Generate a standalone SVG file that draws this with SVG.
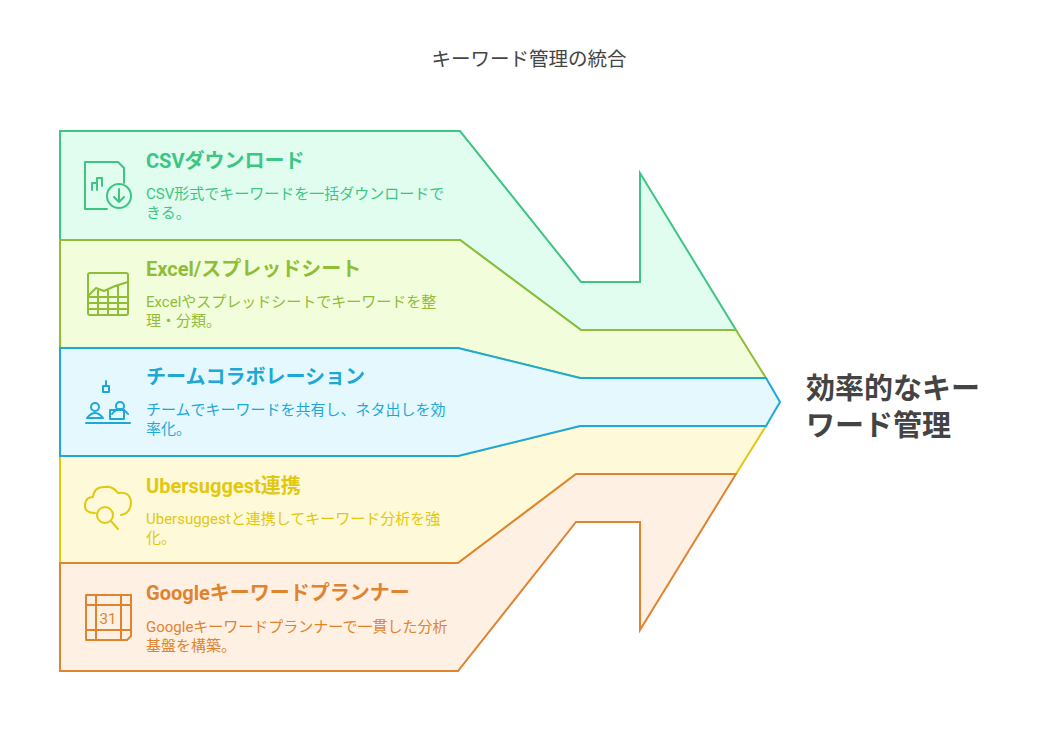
<svg xmlns="http://www.w3.org/2000/svg" width="1056" height="756" viewBox="0 0 1056 756">
<style>
.b{stroke-width:2;stroke-linejoin:miter}
.t{font-family:Roboto,"Noto Sans CJK JP",sans-serif;font-weight:700;font-size:20px}
.d{font-family:Roboto,"Noto Sans CJK JP",sans-serif;font-size:15px}
.i{fill:none;stroke-width:2;stroke-linecap:round;stroke-linejoin:round}
</style>
<rect width="1056" height="756" fill="#fff"/>
<text x="529" y="66" text-anchor="middle" font-family="Roboto,'Noto Sans CJK JP',sans-serif" font-size="19.5" fill="#444">キーワード管理の統合</text>
<g id="connectors">
<polygon id="band1" class="b" fill="#e0fdef" stroke="#3cc583" points="60,131 460,131 581,282 640,282 640,173 736,330 581,330 460,240 60,240"/>
<polygon id="band4" class="b" fill="#fef9d9" stroke="#e2c80f" points="60,456 458,456 580,426 766,426 736,474 576,474 458,563 60,563"/>
<polygon id="band2" class="b" fill="#f2fedb" stroke="#8fbd38" points="60,240 460,240 581,330 736,330 766,378 580,378 458,348 60,348"/>
<polygon id="band5" class="b" fill="#fef0e3" stroke="#e0832f" points="60,563 458,563 576,474 736,474 640,630 640,522 576,522 458,671 60,671"/>
<polygon id="band3" class="b" fill="#e5f8fe" stroke="#1ea8d6" points="60,348 458,348 580,378 766,378 780,402 766,426 580,426 458,456 60,456"/>
</g>
<g id="n1">
<text class="t" x="146" y="168" fill="#3cc583">CSVダウンロード</text>
<text class="d" fill="#3cc583"><tspan x="146" y="199">CSV形式でキーワードを一括ダウンロードで</tspan><tspan x="146" y="218">きる。</tspan></text>
<g class="i" stroke="#3cc583"><path d="M107,209 H85 V162 H118 L124,168 V183"/><path d="M92,190 V183 H96 M97,190 V178 H102 V186"/><circle cx="119" cy="196" r="12"/><path d="M119,189 V202 M114,197 L119,202 L124,197"/></g>
</g>
<g id="n2">
<text class="t" x="146" y="276" fill="#8fbd38">Excel/スプレッドシート</text>
<text class="d" fill="#8fbd38"><tspan x="146" y="307">Excelやスプレッドシートでキーワードを整</tspan><tspan x="146" y="326">理・分類。</tspan></text>
<g class="i" stroke="#8fbd38"><rect x="88" y="273" width="40" height="42" rx="2"/><path d="M88,296 L96,288 L104,291 L115,286 L128,282 M88,303 H128 M88,309 H128 M98,290 V315 M108,290 V315 M118,285 V315 M88,297 H128"/></g>
</g>
<g id="n3">
<text class="t" x="146" y="384" fill="#1ea8d6">チームコラボレーション</text>
<text class="d" fill="#1ea8d6"><tspan x="146" y="415">チームでキーワードを共有し、ネタ出しを効</tspan><tspan x="146" y="434">率化。</tspan></text>
<g class="i" stroke="#1ea8d6"><path d="M106,381 V386 M103,386 H109 V392 H103 Z"/><circle cx="95" cy="407" r="4"/><path d="M87,418 Q95,408 103,418 Z"/><circle cx="120" cy="406" r="4"/><path d="M112,414 Q120,404 128,414"/><rect x="110" y="410" width="14" height="9"/><path d="M86,423 H130"/></g>
</g>
<g id="n4">
<text class="t" x="146" y="493" fill="#e2c80f">Ubersuggest連携</text>
<text class="d" fill="#e2c80f"><tspan x="146" y="524">Ubersuggestと連携してキーワード分析を強</tspan><tspan x="146" y="543">化。</tspan></text>
<g class="i" stroke="#e2c80f"><path d="M95,513 Q84,513 85,504 Q86,497 93,497 Q94,486 106,487 Q113,486 118,493 Q130,491 131,502 Q131,513 121,515"/><circle cx="105" cy="515" r="8"/><path d="M111,521 L118,529"/></g>
</g>
<g id="n5">
<text class="t" x="146" y="600" fill="#e0832f">Googleキーワードプランナー</text>
<text class="d" fill="#e0832f"><tspan x="146" y="632">Googleキーワードプランナーで一貫した分析</tspan><tspan x="146" y="651">基盤を構築。</tspan></text>
<g class="i" stroke="#e0832f" stroke-width="1.7"><path d="M86,595 H131 V636 L127,640 H86 Z M86,605 H131 M86,630 H131 M96,595 V640 M121,595 V640"/></g>
<text x="108" y="624" text-anchor="middle" font-family="Roboto,sans-serif" font-size="15" fill="#e0832f">31</text>
</g>
<g id="result">
<text font-family="Roboto,'Noto Sans CJK JP',sans-serif" font-weight="700" font-size="29" fill="#444"><tspan x="806" y="399">効率的なキー</tspan><tspan x="806" y="436">ワード管理</tspan></text>
</g>
</svg>
